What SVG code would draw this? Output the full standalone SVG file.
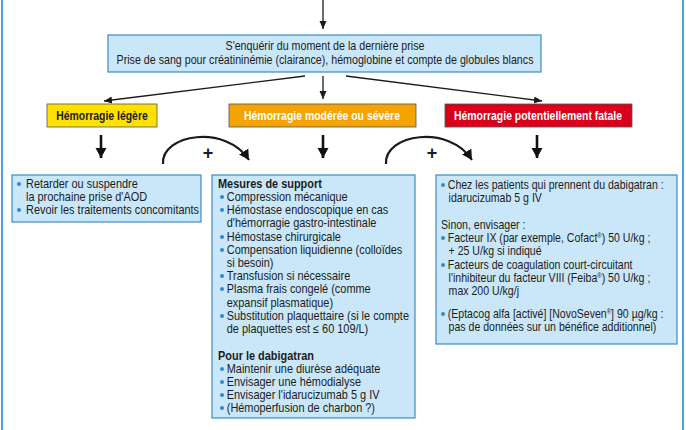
<svg xmlns="http://www.w3.org/2000/svg" width="686" height="430" viewBox="0 0 686 430">
<style>
text{font-family:"Liberation Sans",Arial,sans-serif;font-size:12.5px;fill:#1c1c1c}
.b{font-weight:bold}
.w{fill:#ffffff}
.ctr{text-anchor:middle}
.sv{font-size:12px}
.box{fill:#c9e7f8;stroke:#3a8cc4;stroke-width:1.2}
.sev{stroke:#555;stroke-width:0.8}
.thin{stroke:#1a1a1a;stroke-width:1.3;fill:none}
.thick{stroke:#111;stroke-width:2.6;fill:none}
.dot{fill:#2e8bc9}
.frame{stroke:#4aa3d8;stroke-width:2}
</style>
<defs>
<marker id="ah" markerUnits="userSpaceOnUse" markerWidth="9" markerHeight="8" refX="8" refY="4" orient="auto"><path d="M0,0.5 L8,4 L0,7.5 z" fill="#1a1a1a"/></marker>
<marker id="ahb" markerUnits="userSpaceOnUse" markerWidth="12" markerHeight="12" refX="10" refY="6" orient="auto"><path d="M0,0.5 L10,6 L0,11.5 z" fill="#111"/></marker>
</defs>
<rect width="686" height="430" fill="#ffffff"/>
<line class="frame" x1="2" y1="0" x2="2" y2="430"/>
<line class="frame" x1="683" y1="0" x2="683" y2="430"/>

<g id="connectors">
<line class="thin" x1="323" y1="0" x2="323" y2="29" marker-end="url(#ah)"/>
<line class="thin" x1="305" y1="76" x2="104" y2="101" marker-end="url(#ah)"/>
<line class="thin" x1="323" y1="76" x2="323" y2="99" marker-end="url(#ah)"/>
<line class="thin" x1="346" y1="76" x2="542" y2="101" marker-end="url(#ah)"/>
<line class="thick" x1="101" y1="135" x2="101" y2="158" marker-end="url(#ahb)"/>
<line class="thick" x1="323" y1="135" x2="323" y2="158" marker-end="url(#ahb)"/>
<line class="thick" x1="537" y1="135" x2="537" y2="158" marker-end="url(#ahb)"/>
<path class="thin" style="stroke-width:2.2" d="M163,164 C161,134 226,124 249,160" marker-end="url(#ahb)"/>
<text class="b ctr" x="208" y="159" style="font-size:18px">+</text>
<path class="thin" style="stroke-width:2.2" d="M386,164 C384,134 449,124 472,160" marker-end="url(#ahb)"/>
<text class="b ctr" x="432" y="159" style="font-size:18px">+</text>
</g>

<g id="top">
<rect class="box" x="108" y="35" width="433" height="37"/>
<g transform="translate(325,0) scale(0.855,1) translate(-325,0)">
<text class="ctr" x="325" y="50">S'enquérir du moment de la dernière prise</text>
<text class="ctr" x="325" y="64">Prise de sang pour créatininémie (clairance), hémoglobine et compte de globules blancs</text>
</g>
</g>

<g id="sev-legere">
<rect class="sev" x="47" y="104" width="110" height="23" fill="#ffe100"/>
<text class="b ctr sv" x="102" y="120" transform="translate(102,0) scale(0.87,1) translate(-102,0)">Hémorragie légère</text>
</g>
<g id="sev-moderee">
<rect class="sev" x="229" y="104" width="187" height="23" fill="#f4a300"/>
<text class="b ctr w sv" x="322" y="120" transform="translate(322,0) scale(0.87,1) translate(-322,0)">Hémorragie modérée ou sévère</text>
</g>
<g id="sev-fatale">
<rect class="sev" x="445" y="104" width="187" height="23" fill="#d9001b"/>
<text class="b ctr w sv" x="538" y="120" transform="translate(538,0) scale(0.87,1) translate(-538,0)">Hémorragie potentiellement fatale</text>
</g>

<g id="box-legere">
<rect class="box" x="12" y="175" width="189" height="47"/>
<circle class="dot" cx="19" cy="184" r="2"/>
<circle class="dot" cx="19" cy="210" r="2"/>
<g transform="translate(26,0) scale(0.875,1) translate(-26,0)">
<text x="26" y="188">Retarder ou suspendre</text>
<text x="26" y="201">la prochaine prise d'AOD</text>
<text x="26" y="214">Revoir les traitements concomitants</text>
</g>
</g>

<g id="box-moderee">
<rect class="box" x="212" y="175" width="203" height="243"/>
<circle class="dot" cx="222" cy="197" r="2"/>
<circle class="dot" cx="222" cy="210" r="2"/>
<circle class="dot" cx="222" cy="237" r="2"/>
<circle class="dot" cx="222" cy="250" r="2"/>
<circle class="dot" cx="222" cy="276" r="2"/>
<circle class="dot" cx="222" cy="289" r="2"/>
<circle class="dot" cx="222" cy="316" r="2"/>
<circle class="dot" cx="222" cy="369" r="2"/>
<circle class="dot" cx="222" cy="382" r="2"/>
<circle class="dot" cx="222" cy="395" r="2"/>
<circle class="dot" cx="222" cy="408" r="2"/>
<g transform="translate(218,0) scale(0.875,1) translate(-218,0)">
<text class="b" x="218" y="188">Mesures de support</text>
<text x="228" y="201">Compression mécanique</text>
<text x="228" y="214">Hémostase endoscopique en cas</text>
<text x="228" y="227.4">d'hémorragie gastro-intestinale</text>
<text x="228" y="240.6">Hémostase chirurgicale</text>
<text x="228" y="253.8">Compensation liquidienne (colloïdes</text>
<text x="228" y="267">si besoin)</text>
<text x="228" y="280.2">Transfusion si nécessaire</text>
<text x="228" y="293.4">Plasma frais congelé (comme</text>
<text x="228" y="306.6">expansif plasmatique)</text>
<text x="228" y="319.8">Substitution plaquettaire (si le compte</text>
<text x="228" y="333">de plaquettes est ≤ 60 109/L)</text>
<text class="b" x="218" y="360">Pour le dabigatran</text>
<text x="228" y="373">Maintenir une diurèse adéquate</text>
<text x="228" y="386">Envisager une hémodialyse</text>
<text x="228" y="399">Envisager l'idarucizumab 5 g IV</text>
<text x="228" y="412">(Hémoperfusion de charbon ?)</text>
</g>
</g>

<g id="box-fatale">
<rect class="box" x="436" y="175" width="241" height="169"/>
<circle class="dot" cx="443" cy="185" r="2"/>
<circle class="dot" cx="443" cy="238" r="2"/>
<circle class="dot" cx="443" cy="265" r="2"/>
<circle class="dot" cx="443" cy="314" r="2"/>
<g transform="translate(441,0) scale(0.845,1) translate(-441,0)">
<text x="449" y="189">Chez les patients qui prennent du dabigatran :</text>
<text x="450" y="202">idarucizumab 5 g IV</text>
<text x="441" y="229">Sinon, envisager :</text>
<text x="449" y="242">Facteur IX (par exemple, Cofact<tspan dy="-4" font-size="7">®</tspan><tspan dy="4">) 50 U/kg ;</tspan></text>
<text x="450" y="255">+ 25 U/kg si indiqué</text>
<text x="449" y="269">Facteurs de coagulation court-circuitant</text>
<text x="450" y="282">l'inhibiteur du facteur VIII (Feiba<tspan dy="-4" font-size="7">®</tspan><tspan dy="4">) 50 U/kg ;</tspan></text>
<text x="450" y="295">max 200 U/kg/j</text>
<text x="449" y="318">(Eptacog alfa [activé] [NovoSeven<tspan dy="-4" font-size="7">®</tspan><tspan dy="4">] 90 µg/kg :</tspan></text>
<text x="450" y="331">pas de données sur un bénéfice additionnel)</text>
</g>
</g>
</svg>
